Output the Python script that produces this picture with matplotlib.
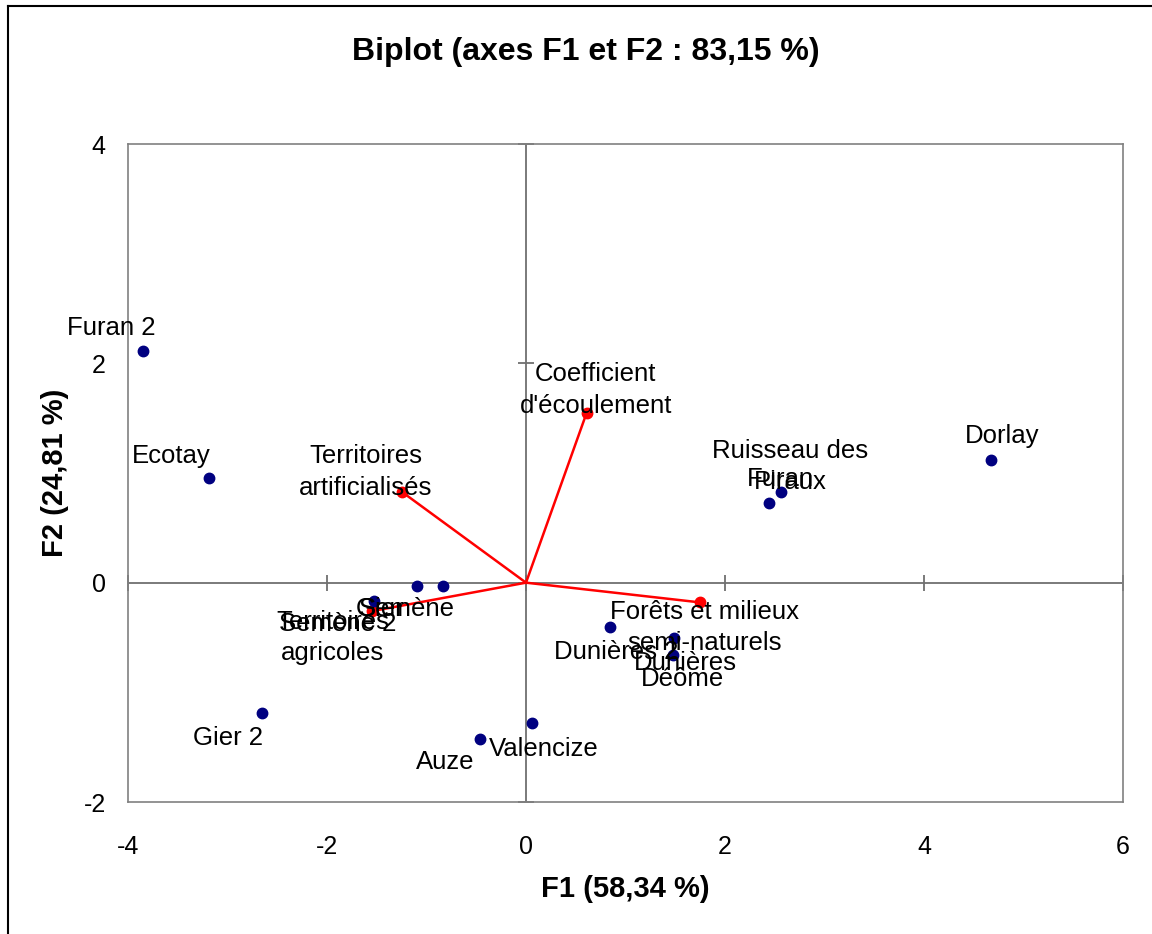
import matplotlib
matplotlib.use("Agg")
import matplotlib.pyplot as plt
from matplotlib.lines import Line2D

plt.rcParams['font.family'] = ['Liberation Sans', 'DejaVu Sans']
plt.rcParams['axes.unicode_minus'] = False

# observations (F1, F2)
obs_names = ['Furan 2', 'Ecotay', 'Gier 2', 'Semène 2', 'Gier', 'Semène', 'Auze',
             'Valencize', 'Dunières 2', 'Dunières', 'Déôme', 'Furan',
             'Ruisseau des\nPiraux', 'Dorlay']
obs_f1 = [-3.85, -3.19, -2.65, -1.53, -1.10, -0.83, -0.46,
          0.06, 0.84, 1.49, 1.48, 2.44, 2.56, 4.67]
obs_f2 = [2.11, 0.95, -1.19, -0.17, -0.03, -0.03, -1.43,
          -1.28, -0.40, -0.50, -0.66, 0.73, 0.83, 1.12]

# variables (F1, F2)
var_names = ["Coefficient\nd'écoulement", 'Territoires\nartificialisés',
             'Territoires\nagricoles', 'Forêts et milieux\nsemi-naturels']
var_f1 = [0.61, -1.25, -1.55, 1.75]
var_f2 = [1.55, 0.83, -0.26, -0.18]

x_ticks = [-4, -2, 0, 2, 4, 6]
y_ticks = [-2, 0, 2, 4]

# label offsets in points (layout only)
obs_offsets = [(-23, 17), (-27, 16), (-24.5, -18), (-26, -16), (-26, -16.5), (-26, -16.5),
               (-25, -16.5), (8.5, -19), (4.5, -18), (8, -18), (6.5, -17), (8.5, 17),
               (7, 18), (8.5, 17)]
var_offsets = [(6.5, 16.5), (-26, 14), (-28, -19), (3, -18)]

fig = plt.figure(figsize=(11.52, 9.34), dpi=100)
ax = fig.add_axes([128 / 1152, 1 - 802 / 934, 995 / 1152, 658 / 934])

ax.set_xlim(-4, 6)
ax.set_ylim(-2, 4)
ax.set_xticks(x_ticks)
ax.set_yticks(y_ticks)
ax.tick_params(length=0, labelsize=18)
ax.tick_params(axis='x', pad=24)
ax.tick_params(axis='y', pad=16)
for s in ax.spines.values():
    s.set_color('#808080')
    s.set_linewidth(1.2)

# axes through origin with crossing ticks
ax.axhline(0, color='#707070', lw=1.3, zorder=1)
ax.axvline(0, color='#707070', lw=1.3, zorder=1)
ax.plot(x_ticks, [0] * len(x_ticks), ls='none', marker='|', ms=12, mew=1.3,
        color='#707070', zorder=1, clip_on=False)
ax.plot([0] * len(y_ticks), y_ticks, ls='none', marker='_', ms=12, mew=1.3,
        color='#707070', zorder=1, clip_on=False)

# variable vectors
for vx, vy in zip(var_f1, var_f2):
    ax.plot([0, vx], [0, vy], color='red', lw=1.8, zorder=2)
ax.plot(var_f1, var_f2, 'o', color='red', ms=7.5, zorder=3)

# observations
ax.plot(obs_f1, obs_f2, 'o', color='#000080', ms=7.5, zorder=4)

for name, x, y, off in zip(obs_names, obs_f1, obs_f2, obs_offsets):
    ax.annotate(name, (x, y), xytext=off, textcoords='offset points',
                ha='center', va='center', fontsize=18.5, linespacing=1.4, zorder=5)
for name, x, y, off in zip(var_names, var_f1, var_f2, var_offsets):
    ax.annotate(name, (x, y), xytext=off, textcoords='offset points',
                ha='center', va='center', fontsize=18.5, linespacing=1.4, zorder=5)

ax.set_xlabel('F1 (58,34 %)', fontsize=21, fontweight='bold', va='center')
ax.set_ylabel('F2 (24,81 %)', fontsize=21, fontweight='bold', va='center')
ax.xaxis.set_label_coords(0.5, (802 - 889) / 658)
ax.yaxis.set_label_coords((55 - 128) / 995, (802 - 473) / 658)

fig.text(586 / 1152, 1 - 52 / 934, 'Biplot (axes F1 et F2 : 83,15 %)',
         ha='center', va='center', fontsize=23, fontweight='bold')

# outer chart frame (left and top edges visible)
fx, fy = 8 / 1152, 1 - 6 / 934
fig.add_artist(Line2D([fx, fx], [0, fy], color='black', lw=1.5))
fig.add_artist(Line2D([fx, 1], [fy, fy], color='black', lw=1.5))

fig.savefig('out.png', dpi=100)
